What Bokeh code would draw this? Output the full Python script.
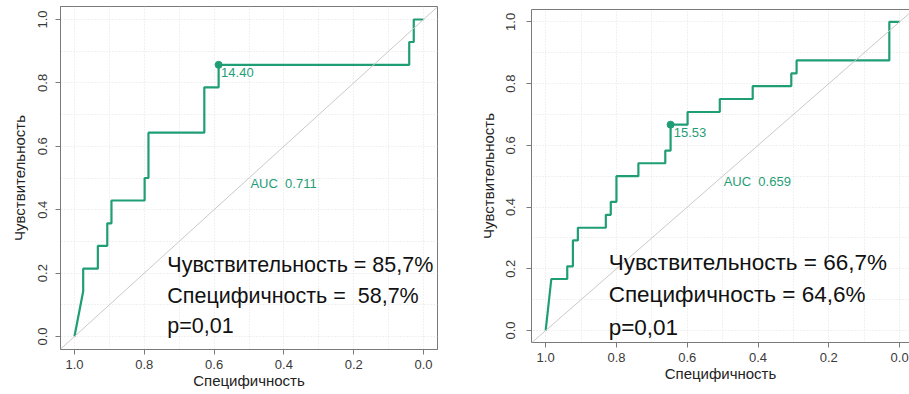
from bokeh.plotting import figure
from bokeh.models import Range1d, FixedTicker, LinearAxis, Label, Slope
from bokeh.layouts import row, column
from bokeh.embed import file_html
from bokeh.resources import INLINE

# ---------------- data ----------------
LEFT_SPEC = [1.0, 0.975, 0.975, 0.933, 0.933, 0.906, 0.906, 0.894, 0.894, 0.799, 0.799,
             0.788, 0.788, 0.628, 0.628, 0.587, 0.587, 0.041, 0.041, 0.028, 0.028, 0.0]
LEFT_SENS = [0.0, 0.143, 0.214, 0.214, 0.286, 0.286, 0.357, 0.357, 0.429, 0.429, 0.5,
             0.5, 0.643, 0.643, 0.786, 0.786, 0.857, 0.857, 0.929, 0.929, 1.0, 1.0]
LEFT_BEST = (0.587, 0.857)
LEFT_THRESHOLD = "14.40"
LEFT_AUC = "AUC\u00a0 0.711"
LEFT_STATS = ["Чувствительность = 85,7%", "Специфичность =\u00a0 58,7%", "p=0,01"]

RIGHT_SPEC = [1.0, 0.984, 0.939, 0.939, 0.923, 0.923, 0.909, 0.909, 0.83, 0.83, 0.816,
              0.816, 0.80, 0.80, 0.738, 0.738, 0.662, 0.662, 0.647, 0.647, 0.599, 0.599,
              0.508, 0.508, 0.415, 0.415, 0.306, 0.306, 0.291, 0.291, 0.029, 0.029, 0.0]
RIGHT_SENS = [0.0, 0.167, 0.167, 0.208, 0.208, 0.292, 0.292, 0.333, 0.333, 0.375, 0.375,
              0.417, 0.417, 0.5, 0.5, 0.542, 0.542, 0.583, 0.583, 0.667, 0.667, 0.708,
              0.708, 0.75, 0.75, 0.792, 0.792, 0.833, 0.833, 0.875, 0.875, 1.0, 1.0]
RIGHT_BEST = (0.647, 0.667)
RIGHT_THRESHOLD = "15.53"
RIGHT_AUC = "AUC\u00a0 0.659"
RIGHT_STATS = ["Чувствительность = 66,7%", "Специфичность = 64,6%", "p=0,01"]

TICKS = [0.0, 0.2, 0.4, 0.6, 0.8, 1.0]
TICK_LABELS = {0.0: "0.0", 0.2: "0.2", 0.4: "0.4", 0.6: "0.6", 0.8: "0.8", 1.0: "1.0"}
GRID = [0.0, 0.1, 0.2, 0.3, 0.4, 0.5, 0.6, 0.7, 0.8, 0.9, 1.0]
X_LABEL = "Специфичность"
Y_LABEL = "Чувствительность"

GREEN = "#1f9e76"
BOX = "#7a7a7a"
TXT = "#3a3a3a"
FONT = "Liberation Sans"


def style_axes(xaxis, yaxis, x_std, y_tick_std, y_std):
    for ax in (xaxis, yaxis):
        ax.ticker = FixedTicker(ticks=TICKS)
        ax.major_label_overrides = TICK_LABELS
        ax.minor_tick_line_color = None
        ax.major_tick_in = 0
        ax.major_tick_out = 5
        ax.axis_line_color = BOX
        ax.major_tick_line_color = BOX
        ax.major_label_text_font = FONT
        ax.major_label_text_font_size = "13px"
        ax.major_label_text_color = TXT
        ax.axis_label_text_font = FONT
        ax.axis_label_text_font_size = "15px"
        ax.axis_label_text_font_style = "normal"
        ax.axis_label_text_color = "#222222"
    xaxis.axis_label = X_LABEL
    yaxis.axis_label = Y_LABEL
    xaxis.major_label_standoff = 5
    yaxis.major_label_standoff = y_tick_std
    yaxis.major_label_orientation = "vertical"
    xaxis.axis_label_standoff = x_std
    yaxis.axis_label_standoff = y_std


def make_plot(spec, sens, best, thr, auc, stats, width, height, xr, yr, borders,
              outline, x_std, y_tick_std, y_std, stats_x, stats_y, stats_size,
              auc_pos, thr_pos):
    p = figure(width=width, height=height, x_range=Range1d(*xr), y_range=Range1d(*yr),
               output_backend="svg", toolbar_location=None,
               min_border_left=borders[0], min_border_right=borders[1],
               min_border_top=borders[2], min_border_bottom=borders[3],
               x_axis_location=None, y_axis_location=None)
    p.background_fill_color = "white"
    p.border_fill_color = "white"
    xaxis = LinearAxis()
    yaxis = LinearAxis()
    p.add_layout(xaxis, "below")
    p.add_layout(yaxis, "left")
    style_axes(xaxis, yaxis, x_std, y_tick_std, y_std)
    if outline:
        p.outline_line_color = BOX
        p.outline_line_width = 1
    else:
        p.outline_line_color = None
        top = LinearAxis(ticker=FixedTicker(ticks=[]), major_label_text_font_size="0px",
                         major_tick_out=0, major_tick_in=0, minor_tick_out=0,
                         minor_tick_in=0, major_label_standoff=0, axis_line_color=BOX)
        p.add_layout(top, "above")

    for g in (p.xgrid, p.ygrid):
        g.ticker = FixedTicker(ticks=GRID)
        g.grid_line_color = "#e2e2e2"
        g.grid_line_dash = "1 2"
        g.grid_line_width = 1

    p.add_layout(Slope(gradient=-1, y_intercept=1, line_color="#c9c9c9", line_width=1))
    p.line(spec, sens, line_color=GREEN, line_width=2.2)
    p.scatter([best[0]], [best[1]], size=7, color=GREEN)

    p.add_layout(Label(x=thr_pos[0], y=thr_pos[1], text=thr, text_color=GREEN,
                       text_font=FONT, text_font_size="13px", text_baseline="middle",
                       text_align="left"))
    p.add_layout(Label(x=auc_pos[0], y=auc_pos[1], text=auc, text_color=GREEN,
                       text_font=FONT, text_font_size="13px", text_baseline="middle",
                       text_align="left"))
    for s, yy in zip(stats, stats_y):
        p.add_layout(Label(x=stats_x, y=yy, text=s, text_color="#111111",
                           text_font=FONT, text_font_size=stats_size,
                           text_baseline="middle", text_align="left"))
    return p


p1 = make_plot(LEFT_SPEC, LEFT_SENS, LEFT_BEST, LEFT_THRESHOLD, LEFT_AUC, LEFT_STATS,
               width=460, height=394, xr=(1.04, -0.04), yr=(-0.041, 1.041),
               borders=(60, 23, 6, 45), outline=True, x_std=0, y_tick_std=8, y_std=8,
               stats_x=0.734, stats_y=[0.227, 0.129, 0.032], stats_size="21.5px",
               auc_pos=(0.496, 0.483), thr_pos=(0.58, 0.834))

p2 = make_plot(RIGHT_SPEC, RIGHT_SENS, RIGHT_BEST, RIGHT_THRESHOLD, RIGHT_AUC, RIGHT_STATS,
               width=449, height=394, xr=(1.04, -0.028), yr=(-0.0387, 1.04),
               borders=(71, 0, 9, 52), outline=False, x_std=0, y_tick_std=11, y_std=7,
               stats_x=0.822, stats_y=[0.221, 0.117, 0.011], stats_size="22.5px",
               auc_pos=(0.497, 0.484), thr_pos=(0.638, 0.642))

layout = row(column(p1), column(p2))
open("out.html", "w").write(file_html(layout, INLINE))
